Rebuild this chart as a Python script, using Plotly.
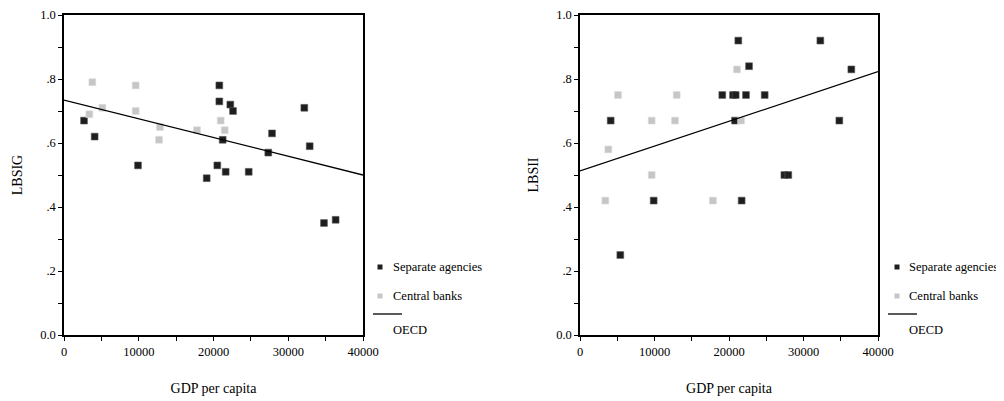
import plotly.graph_objects as go

# ---- data: left panel (LBSIG) ----
sep_gdp_l = [2680, 4100, 9900, 20780, 20780, 22250, 22610, 21230, 20510, 19090, 21630, 24710, 27330, 27830, 32150, 32870, 34780, 36340]
sep_val_l = [0.67, 0.62, 0.53, 0.78, 0.73, 0.72, 0.70, 0.61, 0.53, 0.49, 0.51, 0.51, 0.57, 0.63, 0.71, 0.59, 0.35, 0.36]
cb_gdp_l = [3790, 3390, 5130, 9590, 9590, 12840, 12710, 17790, 20960, 21500]
cb_val_l = [0.79, 0.69, 0.71, 0.78, 0.70, 0.65, 0.61, 0.64, 0.67, 0.64]
oecd_x_l = [0, 40000]
oecd_y_l = [0.734, 0.50]

# ---- data: right panel (LBSII) ----
sep_gdp_r = [21250, 32260, 22690, 36420, 19100, 20540, 20900, 22280, 24790, 4120, 20810, 34810, 27430, 27960, 9890, 21700, 5410]
sep_val_r = [0.92, 0.92, 0.84, 0.83, 0.75, 0.75, 0.75, 0.75, 0.75, 0.67, 0.67, 0.67, 0.50, 0.50, 0.42, 0.42, 0.25]
cb_gdp_r = [5100, 12980, 21070, 9620, 12750, 21610, 3800, 9620, 3400, 17850]
cb_val_r = [0.75, 0.75, 0.83, 0.67, 0.67, 0.67, 0.58, 0.50, 0.42, 0.42]
oecd_x_r = [0, 40000]
oecd_y_r = [0.5125, 0.823]

x_ticks = [0, 10000, 20000, 30000, 40000]
x_labels = ["0", "10000", "20000", "30000", "40000"]
y_ticks = [0.0, 0.2, 0.4, 0.6, 0.8, 1.0]
y_labels = ["0.0", ".2", ".4", ".6", ".8", "1.0"]
legend_labels = ["Separate agencies", "Central banks", "OECD"]

SEP_COLOR = "#1e1e1e"
CB_COLOR = "#c6c6c6"
FONT = "Liberation Serif, DejaVu Serif, serif"

# page body has an 8px margin: figure is sized to fit inside the 1004x401 window
OFF = 8
W, H = 1004 - OFF, 401 - OFF
fig = go.Figure()

def add_panel(xa, ya, sg, sv, cg, cv, ox, oy):
    fig.add_trace(go.Scatter(x=sg, y=sv, mode="markers", xaxis=xa, yaxis=ya,
                             marker=dict(symbol="square", size=6.8, color=SEP_COLOR,
                                         line=dict(width=0.6, color="#555")),
                             name=legend_labels[0], showlegend=False))
    fig.add_trace(go.Scatter(x=cg, y=cv, mode="markers", xaxis=xa, yaxis=ya,
                             marker=dict(symbol="square", size=6.8, color=CB_COLOR,
                                         line=dict(width=0.6, color="#d8d8d8")),
                             name=legend_labels[1], showlegend=False))
    fig.add_trace(go.Scatter(x=ox, y=oy, mode="lines", xaxis=xa, yaxis=ya,
                             line=dict(color="black", width=1.3),
                             name=legend_labels[2], showlegend=False))

add_panel("x", "y", sep_gdp_l, sep_val_l, cb_gdp_l, cb_val_l, oecd_x_l, oecd_y_l)
add_panel("x2", "y2", sep_gdp_r, sep_val_r, cb_gdp_r, cb_val_r, oecd_x_r, oecd_y_r)

def px(v):
    return (v - OFF) / W

def py(v):
    return 1 - (v - OFF) / H

ydom = [py(335), py(15)]
xdom1 = [px(64), px(363)]
xdom2 = [px(580), px(878)]

common_x = dict(range=[0, 40000], tickvals=x_ticks, ticktext=x_labels, ticks="outside",
                ticklen=4, tickwidth=1, tickcolor="black", showgrid=False, zeroline=False,
                showline=True, linecolor="black", linewidth=1.5, mirror=True, automargin=False,
                tickfont=dict(family=FONT, size=12.5, color="black"),
                minor=dict(dtick=5000, ticks="outside", ticklen=4, tickcolor="black", showgrid=False),
                title=dict(text="GDP per capita", font=dict(family=FONT, size=14, color="black"), standoff=25))
common_y = dict(range=[0, 1], tickvals=y_ticks, ticktext=y_labels, ticks="outside",
                ticklen=4, tickwidth=1, tickcolor="black", showgrid=False, zeroline=False,
                showline=True, linecolor="black", linewidth=1.5, mirror=True, automargin=False,
                tickfont=dict(family=FONT, size=12.5, color="black"),
                minor=dict(dtick=0.1, ticks="outside", ticklen=4, tickcolor="black", showgrid=False),
                domain=ydom)

fig.update_layout(
    width=W, height=H, margin=dict(l=0, r=0, t=0, b=0, autoexpand=False),
    paper_bgcolor="white", plot_bgcolor="white", showlegend=False,
    font=dict(family=FONT, size=12, color="black"),
    xaxis=dict(common_x, domain=xdom1, anchor="y"),
    yaxis=dict(common_y, anchor="x", title=dict(text="LBSIG", font=dict(family=FONT, size=14, color="black"), standoff=14)),
    xaxis2=dict(common_x, domain=xdom2, anchor="y2"),
    yaxis2=dict(common_y, anchor="x2", title=dict(text="LBSII", font=dict(family=FONT, size=14, color="black"), standoff=14)),
)

# ---- manual legends (SPSS style) ----
def add_legend(mx, tx, lx0, lx1):
    for yy, col in [(267, SEP_COLOR), (296, CB_COLOR)]:
        fig.add_shape(type="rect", xref="paper", yref="paper",
                      x0=px(mx - 2.5), x1=px(mx + 2.5), y0=py(yy + 2.5), y1=py(yy - 2.5),
                      fillcolor=col, line=dict(width=0))
    fig.add_shape(type="line", xref="paper", yref="paper",
                  x0=px(lx0), x1=px(lx1), y0=py(314), y1=py(314),
                  line=dict(color="black", width=1.3))
    for yy, txt in [(267, legend_labels[0]), (296, legend_labels[1]), (330, legend_labels[2])]:
        fig.add_annotation(xref="paper", yref="paper", x=px(tx), y=py(yy), text=txt,
                           showarrow=False, xanchor="left", yanchor="middle",
                           font=dict(family=FONT, size=12.5, color="black"))

add_legend(380, 391, 373, 402)
add_legend(897, 907, 888, 917)

fig.write_html("out.html")
